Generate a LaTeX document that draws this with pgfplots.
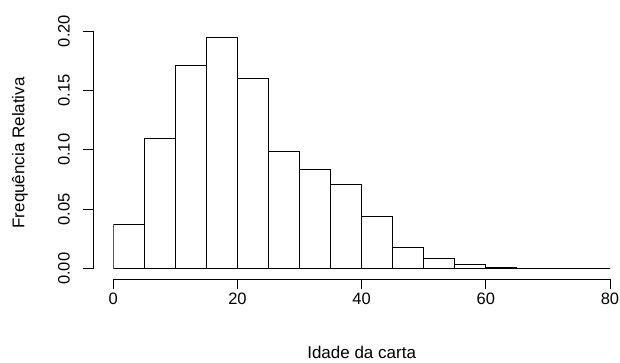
\documentclass[border=0pt]{standalone}
\usepackage{pgfplots}
\pgfplotsset{compat=1.18}
\usepackage{fontspec}
\setmainfont{Liberation Sans}
\pgfplotsset{
  rbase/.style={
    scale only axis,
    width=496.7pt, height=237.7pt,
    xmin=0, xmax=80, ymin=0, ymax=0.2,
    axis line style={black, line width=0.9pt},
    tick align=outside,
    major tick length=10pt,
    tick style={black, line width=0.9pt},
    /pgf/number format/assume math mode=true,
    ticklabel style={font=\fontsize{16.5}{19}\selectfont},
  }
}
\begin{document}
\begin{tikzpicture}
% histogram bars
\begin{axis}[rbase, name=ax, at={(0,0)}, anchor=south west, hide axis]
\addplot[ybar interval, fill=white, draw=black, line width=0.9pt] coordinates {
 (0,0.0374) (5,0.1093) (10,0.1712) (15,0.1949) (20,0.1600) (25,0.0986)
 (30,0.0836) (35,0.0707) (40,0.0439) (45,0.0183) (50,0.0085) (55,0.0034)
 (60,0.0010) (65,0) (70,0) (75,0) (80,0)
};
\end{axis}
% x axis (R style, detached)
\begin{axis}[rbase, at={(0,-10.6pt)}, anchor=south west,
  axis y line=none, axis x line*=bottom,
  xtick={0,20,40,60,80}, ytick=\empty,
  xlabel={Idade da carta},
  every axis x label/.style={at={(axis description cs:0.5,-0.3058)}, anchor=center, font=\fontsize{17}{20}\selectfont},
]
\end{axis}
% y axis (R style, detached)
\begin{axis}[rbase, at={(-20pt,0)}, anchor=south west,
  axis x line=none, axis y line*=left,
  xtick=\empty, ytick={0,0.05,0.1,0.15,0.2},
  yticklabel style={/pgf/number format/fixed, /pgf/number format/zerofill, /pgf/number format/precision=2, rotate=90, anchor=south},
  yticklabel shift=10pt,
  ylabel={Frequência Relativa},
  every axis y label/.style={at={(axis description cs:-0.1476,0.4874)}, rotate=90, anchor=center, font=\fontsize{17}{20}\selectfont},
]
\end{axis}
\pgfresetboundingbox
\path ([shift={(-113.3pt,-93.3pt)}]ax.south west) rectangle ([shift={(10pt,31pt)}]ax.north east);
\end{tikzpicture}
\end{document}
